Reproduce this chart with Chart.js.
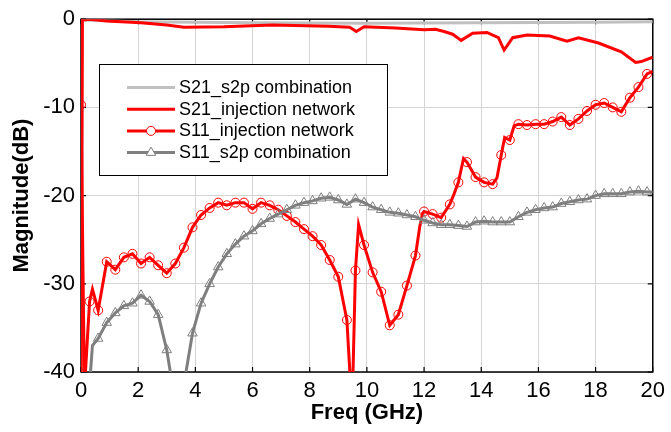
<!DOCTYPE html>
<html>
<head>
<meta charset="utf-8">
<script src="https://cdn.jsdelivr.net/npm/chart.js@4.4.1/dist/chart.umd.min.js"></script>
<style>
  html, body { margin: 0; padding: 0; background: #fff; }
  #wrap { width: 671px; height: 432px; }
</style>
</head>
<body>
<div id="wrap"><canvas id="c" width="671" height="432"></canvas></div>
<script>
// ---------- data ----------
const seriesNames = ['S21_s2p combination', 'S21_injection network', 'S11_injection network', 'S11_s2p combination'];

const xTickValues = [0, 2, 4, 6, 8, 10, 12, 14, 16, 18, 20];
const yTickValues = [0, -10, -20, -30, -40];

const s21s2pFreq = [0, 0.03, 2, 6, 10, 14, 18, 20];
const s21s2pDb   = [-45, -0.1, -0.3, -0.4, -0.45, -0.4, -0.35, -0.3];

const s21injFreq = [0, 0.05, 0.3, 0.9, 2.1, 3.0, 3.6, 5.0, 6.7, 8.65, 9.4, 9.63, 9.9, 11.0, 12.0, 12.4, 12.7, 13.0, 13.3, 13.7, 14.2, 14.6, 14.8, 15.1, 15.6, 16.4, 17.0, 17.4, 18.1, 18.9, 19.4, 19.6, 20.0];
const s21injDb   = [-45, -0.1, 0.0, -0.2, -0.4, -0.65, -0.9, -0.85, -0.65, -0.8, -0.9, -1.4, -0.85, -1.0, -1.2, -1.15, -1.4, -1.7, -2.4, -1.6, -1.5, -2.1, -3.5, -2.1, -1.8, -1.9, -2.5, -2.1, -2.7, -3.7, -4.9, -4.8, -4.3];

const s11injFreq = [0, 0.12, 0.3, 0.4, 0.6, 0.9, 1.2, 1.5, 1.8, 2.1, 2.4, 2.7, 3.0, 3.3, 3.6, 3.9, 4.2, 4.5, 4.8, 5.1, 5.4, 5.7, 6.0, 6.3, 6.6, 6.9, 7.2, 7.5, 7.8, 8.1, 8.4, 8.7, 9.0, 9.3, 9.44, 9.5, 9.6, 9.71, 9.9, 10.2, 10.5, 10.8, 11.1, 11.4, 11.7, 11.85, 11.95, 12.0, 12.3, 12.6, 12.9, 13.05, 13.2, 13.38, 13.5, 13.8, 14.1, 14.4, 14.55, 14.7, 14.82, 15.0, 15.15, 15.3, 15.6, 15.9, 16.2, 16.5, 16.8, 17.1, 17.4, 17.7, 18.0, 18.3, 18.6, 18.9, 19.2, 19.5, 19.8, 20.0];
const s11injDb   = [-9.7, -42, -32.0, -30.6, -33.0, -27.5, -28.4, -27.0, -26.6, -27.7, -27.0, -27.9, -28.8, -27.7, -25.9, -23.6, -22.2, -21.4, -20.8, -21.1, -20.8, -20.8, -21.5, -20.8, -21.1, -21.6, -22.3, -23.0, -23.8, -24.6, -25.6, -27.3, -29.2, -34.1, -42, -42, -28.5, -23.3, -25.6, -28.7, -30.9, -34.7, -33.5, -30.2, -26.8, -23.5, -22.0, -21.8, -22.1, -22.5, -21.0, -19.8, -18.5, -15.8, -16.2, -17.9, -18.5, -18.7, -18.0, -15.4, -13.4, -13.7, -12.1, -11.9, -12.0, -11.9, -11.9, -11.6, -11.1, -12.0, -11.3, -10.4, -9.7, -9.5, -10.0, -10.5, -8.9, -7.7, -6.2, -5.9];

const s11s2pFreq = [0.3, 0.4, 0.6, 0.9, 1.2, 1.5, 1.8, 2.1, 2.4, 2.7, 3.0, 3.15, 3.3, 3.6, 3.9, 4.2, 4.5, 4.8, 5.1, 5.4, 5.7, 6.0, 6.3, 6.6, 6.9, 7.2, 7.5, 7.8, 8.1, 8.4, 8.7, 9.0, 9.3, 9.6, 9.9, 10.2, 10.5, 10.8, 11.1, 11.4, 11.7, 12.0, 12.3, 12.6, 12.9, 13.2, 13.5, 13.8, 14.1, 14.4, 14.7, 15.0, 15.3, 15.6, 15.9, 16.2, 16.5, 16.8, 17.1, 17.4, 17.7, 18.0, 18.3, 18.6, 18.9, 19.2, 19.5, 19.8, 20.0];
const s11s2pDb   = [-41.5, -37.0, -36.2, -34.4, -33.3, -32.5, -32.2, -31.3, -32.0, -33.5, -37.5, -40.5, -48, -41.4, -35.6, -32.2, -30.0, -28.1, -26.6, -25.5, -24.6, -24.0, -23.2, -22.6, -22.1, -21.6, -21.1, -20.8, -20.6, -20.3, -20.2, -20.5, -21.0, -20.4, -20.8, -21.3, -21.6, -21.9, -22.0, -22.2, -22.4, -22.8, -23.1, -23.3, -23.3, -23.4, -23.5, -23.0, -22.9, -23.0, -23.0, -23.0, -22.4, -21.9, -21.6, -21.4, -21.3, -20.9, -20.7, -20.5, -20.4, -20.0, -19.8, -19.8, -19.8, -19.6, -19.5, -19.6, -19.6];

// ---------- helpers ----------
const pts = (xs, ys) => xs.map((x, i) => ({ x: x, y: ys[i] }));
const onMarkerGrid = x => Math.abs(x / 0.3 - Math.round(x / 0.3)) < 1e-6;

const RED = '#ff0000', DARKGRAY = '#7f7f7f', LIGHTGRAY = '#c0c0c0';
const FONT = "'Liberation Sans', Arial, Helvetica, sans-serif";
const CIRCLE_R = 4.5, TRI_R = 5.5;

const decor = {
  id: 'decor',
  beforeDatasetsDraw(chart) {
    const { ctx, chartArea: a, scales: { x, y } } = chart;
    ctx.save();
    ctx.strokeStyle = '#000';
    ctx.lineWidth = 1.5;
    ctx.strokeRect(a.left, a.top, a.right - a.left, a.bottom - a.top);
    ctx.lineWidth = 1.2;
    const tl = 5;
    ctx.beginPath();
    x.ticks.forEach(t => {
      const px = x.getPixelForValue(t.value);
      ctx.moveTo(px, a.bottom); ctx.lineTo(px, a.bottom - tl);
      ctx.moveTo(px, a.top); ctx.lineTo(px, a.top + tl);
    });
    y.ticks.forEach(t => {
      const py = y.getPixelForValue(t.value);
      ctx.moveTo(a.left, py); ctx.lineTo(a.left + tl, py);
      ctx.moveTo(a.right, py); ctx.lineTo(a.right - tl, py);
    });
    ctx.stroke();
    ctx.restore();
  },
  afterDraw(chart) {
    const { ctx } = chart;
    ctx.save();
    const bx = 99.5, by = 64.5, bw = 288, bh = 111;
    ctx.fillStyle = '#fff';
    ctx.fillRect(bx, by, bw, bh);
    ctx.strokeStyle = '#000';
    ctx.lineWidth = 1;
    ctx.strokeRect(bx, by, bw, bh);
    const colors = [LIGHTGRAY, RED, RED, DARKGRAY];
    const markers = [null, null, 'circle', 'triangle'];
    ctx.font = '18px ' + FONT;
    ctx.textBaseline = 'middle';
    ctx.textAlign = 'left';
    seriesNames.forEach((name, i) => {
      const ry = 87.5 + i * 21.7;
      ctx.strokeStyle = colors[i];
      ctx.lineWidth = 3;
      ctx.beginPath();
      ctx.moveTo(127, ry); ctx.lineTo(175, ry);
      ctx.stroke();
      if (markers[i]) {
        ctx.lineWidth = 1;
        ctx.fillStyle = '#fff';
        ctx.strokeStyle = colors[i];
        ctx.beginPath();
        if (markers[i] === 'circle') {
          ctx.arc(151, ry, CIRCLE_R, 0, Math.PI * 2);
        } else {
          const r = TRI_R;
          ctx.moveTo(151, ry - r);
          ctx.lineTo(151 + r * Math.sin(2 * Math.PI / 3), ry - r * Math.cos(2 * Math.PI / 3));
          ctx.lineTo(151 + r * Math.sin(4 * Math.PI / 3), ry - r * Math.cos(4 * Math.PI / 3));
          ctx.closePath();
        }
        ctx.fill();
        ctx.stroke();
      }
      ctx.fillStyle = '#000';
      ctx.fillText(name, 179, ry + 0.5);
    });
    ctx.restore();
  }
};

new Chart(document.getElementById('c'), {
  type: 'line',
  data: {
    datasets: [
      {
        label: seriesNames[0], data: pts(s21s2pFreq, s21s2pDb),
        borderColor: LIGHTGRAY, borderWidth: 3, pointRadius: 0, order: 4
      },
      {
        label: seriesNames[1], data: pts(s21injFreq, s21injDb),
        borderColor: RED, borderWidth: 3, pointRadius: 0, order: 3
      },
      {
        label: seriesNames[2], data: pts(s11injFreq, s11injDb),
        borderColor: RED, borderWidth: 3, order: 2,
        pointStyle: 'circle',
        pointRadius: ctx => (ctx.raw && onMarkerGrid(ctx.raw.x)) ? CIRCLE_R : 0,
        pointBorderColor: RED, pointBackgroundColor: 'rgba(0,0,0,0)', pointBorderWidth: 1
      },
      {
        label: seriesNames[3], data: pts(s11s2pFreq, s11s2pDb),
        borderColor: DARKGRAY, borderWidth: 3, order: 1,
        pointStyle: 'triangle',
        pointRadius: ctx => (ctx.raw && onMarkerGrid(ctx.raw.x)) ? TRI_R : 0,
        pointBorderColor: DARKGRAY, pointBackgroundColor: 'rgba(0,0,0,0)', pointBorderWidth: 1
      }
    ]
  },
  options: {
    responsive: false,
    animation: false,
    devicePixelRatio: 1,
    events: [],
    layout: { padding: { top: 17, right: 14, left: 0, bottom: 0 } },
    plugins: { legend: { display: false }, tooltip: { enabled: false } },
    elements: { line: { tension: 0 } },
    scales: {
      x: {
        type: 'linear', min: 0, max: 20,
        afterFit: s => { s.height = 60; },
        afterBuildTicks: s => { s.ticks = xTickValues.map(v => ({ value: v })); },
        ticks: { color: '#000', font: { family: FONT, size: 22 }, padding: 6, maxRotation: 0, autoSkip: false },
        grid: { color: '#d4d4d4', lineWidth: 1, drawTicks: false },
        border: { display: false },
        title: { display: true, text: 'Freq (GHz)', color: '#000', font: { family: FONT, size: 22, weight: 'bold' }, padding: { top: 0, bottom: 6 } }
      },
      y: {
        min: -40, max: 0,
        afterFit: s => { s.width = 81; },
        afterBuildTicks: s => { s.ticks = yTickValues.map(v => ({ value: v })); },
        ticks: { color: '#000', font: { family: FONT, size: 22 }, padding: 6, autoSkip: false },
        grid: { color: '#d4d4d4', lineWidth: 1, drawTicks: false },
        border: { display: false },
        title: { display: true, text: 'Magnitude(dB)', color: '#000', font: { family: FONT, size: 22, weight: 'bold' }, padding: { top: 9, bottom: 0 } }
      }
    }
  },
  plugins: [decor]
});
</script>
</body>
</html>
